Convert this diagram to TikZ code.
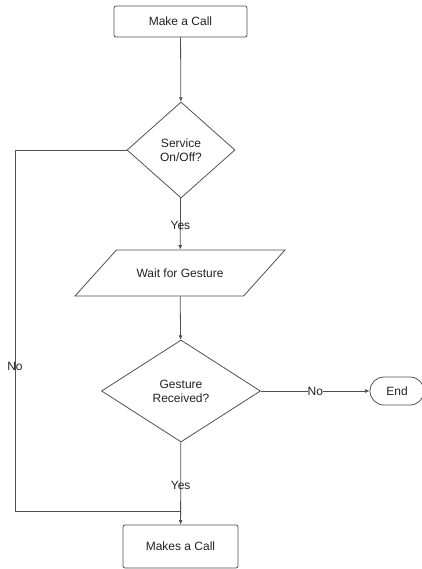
\documentclass[tikz,border=0pt]{standalone}
\usepackage{fontspec}
\setmainfont{Liberation Sans}
\usepackage{tikz}
\usetikzlibrary{arrows.meta,positioning,shapes.geometric}
\definecolor{linegray}{HTML}{505050}
\definecolor{txt}{HTML}{222222}
\tikzset{
  ar/.style={-{Latex[length=4.5pt,width=4pt]},linegray,line width=0.8pt},
  ln/.style={linegray,line width=0.8pt},
  stepbox/.style={draw=linegray,line width=0.8pt,rounded corners=2pt,align=center,text=txt},
  decision/.style={diamond,draw=linegray,line width=0.8pt,inner sep=0pt,align=center,text=txt},
  io/.style={trapezium,trapezium left angle=48,trapezium right angle=132,trapezium stretches body,
    draw=linegray,line width=0.8pt,text=txt,text height=9pt,text depth=0pt,inner ysep=18.5pt},
  term/.style={draw=linegray,line width=0.8pt,rounded corners=14pt,minimum width=54pt,minimum height=28pt,text=txt},
  lbl/.style={text=txt,inner sep=1pt}
}

\begin{document}
\begin{tikzpicture}[x=1pt,y=-1pt,font=\fontsize{12}{14}\selectfont]
\useasboundingbox (0,0) rectangle (421,569);
% shapes
\node[stepbox,minimum width=133pt,minimum height=31pt] (call) at (180.5,21.5) {Make a Call};
\node[decision,minimum width=108pt,minimum height=96pt] (service) at (181,150) {Service\\On/Off?};
\node[io,minimum width=210pt] (wait) at (180,273) {Wait for Gesture};
\node[decision,minimum width=159pt,minimum height=102pt] (gesture) at (181,391) {Gesture\\Received?};
\node[term] (end) at (397,391) {End};
\node[stepbox,minimum width=115pt,minimum height=43pt] (makes) at (180.5,546.5) {Makes a Call};
\coordinate (nocorner) at (15,511);
\coordinate (join) at (makes.north |- nocorner);
% connectors
\draw[ar] (call) -- (service);
\draw[ar] (service) -- node[lbl,pos=0.54]{Yes} (wait);
\draw[ar] (wait) -- (gesture);
\draw[ar] (gesture) -- node[lbl,fill=white,inner sep=0pt]{No} (end);
\draw[ar] (gesture) -- node[lbl,pos=0.52]{Yes} (makes);
\draw[ln] (service.west) -| node[lbl,pos=0.8]{No} (nocorner) -- (join);
\end{tikzpicture}
\end{document}
